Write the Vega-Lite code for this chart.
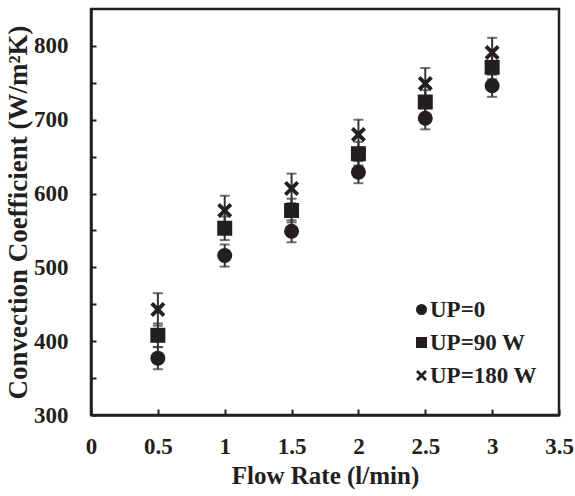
{
  "$schema": "https://vega.github.io/schema/vega-lite/v6.json",
  "width": 468,
  "height": 406,
  "autosize": {"type": "none"},
  "padding": {"left": 91, "top": 9, "right": 16, "bottom": 81},
  "background": "white",
  "config": {
    "view": {"stroke": "#231f20", "strokeWidth": 2.5},
    "font": "Liberation Serif",
    "axis": {
      "domainColor": "#231f20", "domainWidth": 2.5,
      "tickColor": "#231f20", "tickWidth": 2, "grid": false, "labelFlush": false,
      "labelFont": "Liberation Serif", "labelFontWeight": "bold", "labelFontSize": 23, "labelColor": "#231f20",
      "titleFont": "Liberation Serif", "titleFontWeight": "bold", "titleFontSize": 25, "titleColor": "#231f20"
    },
    "legend": {
      "labelFont": "Liberation Serif", "labelFontWeight": "bold", "labelFontSize": 23, "labelColor": "#231f20"
    }
  },
  "data": {
    "values": [
      {"flow": 0.5, "series": "UP=0", "h": 377, "err": 15},
      {"flow": 1.0, "series": "UP=0", "h": 516, "err": 15},
      {"flow": 1.5, "series": "UP=0", "h": 549, "err": 15},
      {"flow": 2.0, "series": "UP=0", "h": 629, "err": 15},
      {"flow": 2.5, "series": "UP=0", "h": 702, "err": 15},
      {"flow": 3.0, "series": "UP=0", "h": 746, "err": 15},
      {"flow": 0.5, "series": "UP=90 W", "h": 408, "err": 16},
      {"flow": 1.0, "series": "UP=90 W", "h": 553, "err": 16},
      {"flow": 1.5, "series": "UP=90 W", "h": 577, "err": 16},
      {"flow": 2.0, "series": "UP=90 W", "h": 654, "err": 16},
      {"flow": 2.5, "series": "UP=90 W", "h": 724, "err": 16},
      {"flow": 3.0, "series": "UP=90 W", "h": 771, "err": 16},
      {"flow": 0.5, "series": "UP=180 W", "h": 443, "err": 22},
      {"flow": 1.0, "series": "UP=180 W", "h": 577, "err": 20},
      {"flow": 1.5, "series": "UP=180 W", "h": 607, "err": 20},
      {"flow": 2.0, "series": "UP=180 W", "h": 680, "err": 20},
      {"flow": 2.5, "series": "UP=180 W", "h": 749, "err": 21},
      {"flow": 3.0, "series": "UP=180 W", "h": 791, "err": 20}
    ]
  },
  "layer": [
    {
      "mark": {"type": "errorbar", "ticks": {"size": 10, "thickness": 2, "color": "#333333"}, "rule": {"strokeWidth": 2, "color": "#333333"}},
      "encoding": {
        "x": {"field": "flow", "type": "quantitative", "title": "Flow Rate (l/min)"},
        "y": {"field": "h", "type": "quantitative", "title": "Convection Coefficient (W/m²K)"},
        "yError": {"field": "err"},
        "detail": {"field": "series"}
      }
    },
    {
      "mark": {"type": "point", "filled": true, "opacity": 1, "color": "#231f20", "size": 225},
      "encoding": {
        "x": {
          "field": "flow", "type": "quantitative",
          "scale": {"domain": [0, 3.5], "nice": false, "zero": false},
          "title": "Flow Rate (l/min)",
          "axis": {
            "values": [0, 0.5, 1, 1.5, 2, 2.5, 3, 3.5], "format": "~g",
            "tickSize": -6, "labelPadding": 26, "titlePadding": 5
          }
        },
        "y": {
          "field": "h", "type": "quantitative",
          "scale": {"domain": [300, 850], "nice": false, "zero": false},
          "title": "Convection Coefficient (W/m²K)",
          "axis": {
            "values": [300, 350, 400, 450, 500, 550, 600, 650, 700, 750, 800],
            "labelExpr": "datum.value % 100 === 0 ? datum.label : ''",
            "tickSize": -5, "labelPadding": 28,
            "titleFontSize": 27, "titlePadding": 1
          }
        },
        "shape": {
          "field": "series", "type": "nominal",
          "scale": {
            "domain": ["UP=0", "UP=90 W", "UP=180 W"],
            "range": ["circle", "square", "M-0.64,-1L0,-0.36L0.64,-1L1,-0.64L0.36,0L1,0.64L0.64,1L0,0.36L-0.64,1L-1,0.64L-0.36,0L-1,-0.64Z"]
          },
          "legend": {
            "title": null, "orient": "none", "legendX": 319, "legendY": 289,
            "symbolSize": 121, "symbolFillColor": "#231f20", "symbolStrokeWidth": 0,
            "labelOffset": -3, "rowPadding": 9, "padding": 0
          }
        }
      }
    }
  ]
}
